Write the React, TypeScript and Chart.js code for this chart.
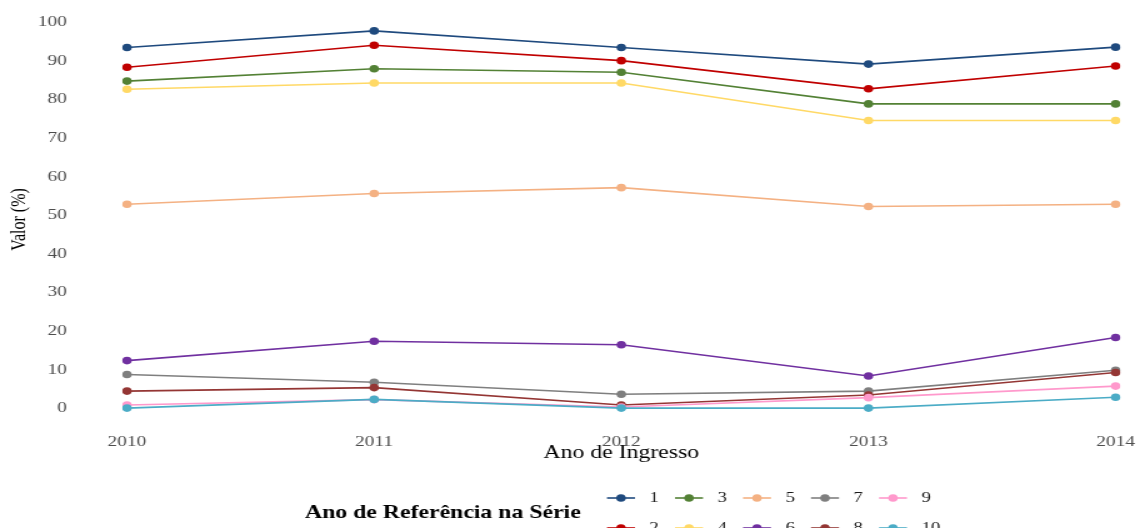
import React, { useEffect, useRef } from "react";
import { Chart, registerables } from "chart.js";

Chart.register(...registerables);

const years = ["2010", "2011", "2012", "2013", "2014"];
const seriesLabels = ["1", "2", "3", "4", "5", "6", "7", "8", "9", "10"];
const serie1 = [93.4, 97.7, 93.4, 89.1, 93.5];
const serie2 = [88.3, 94.0, 90.0, 82.7, 88.6];
const serie3 = [84.7, 87.9, 87.0, 78.8, 78.8];
const serie4 = [82.6, 84.2, 84.2, 74.5, 74.5];
const serie5 = [52.8, 55.6, 57.1, 52.2, 52.8];
const serie6 = [12.3, 17.3, 16.4, 8.3, 18.3];
const serie7 = [8.7, 6.7, 3.6, 4.4, 9.8];
const serie8 = [4.4, 5.3, 0.8, 3.4, 9.2];
const serie9 = [0.8, 2.2, 0.3, 2.7, 5.7];
const serie10 = [0.0, 2.25, 0.0, 0.0, 2.8];
const yTicks = [0, 10, 20, 30, 40, 50, 60, 70, 80, 90, 100];

const seriesValues = [serie1, serie2, serie3, serie4, serie5, serie6, serie7, serie8, serie9, serie10];
const seriesColors = [
  "#1F4A7E",
  "#C00000",
  "#538135",
  "#FFD966",
  "#F4B183",
  "#7030A0",
  "#7F7F7F",
  "#943634",
  "#FF99CC",
  "#4BACC6",
];

const xTitle = "Ano de Ingresso";
const yTitle = "Valor (%)";
const legendTitle = "Ano de Referência na Série";

const STRETCH = 1.25;
const FULL_W = 1143;
const H = 528;
const W = Math.round(FULL_W / STRETCH);
const FONT = "'Liberation Serif', 'Times New Roman', serif";

const legendPlugin = {
  id: "bottomLegend",
  afterDraw(chart: any) {
    const ctx = chart.ctx as CanvasRenderingContext2D;
    ctx.save();
    ctx.font = `bold 19px ${FONT}`;
    ctx.fillStyle = "#000";
    ctx.textBaseline = "middle";
    ctx.textAlign = "left";
    ctx.fillText(legendTitle, 244, 513);
    chart.data.datasets.forEach((ds: any, i: number) => {
      const col = Math.floor(i / 2);
      const row = i % 2;
      const x0 = 485.6 + col * 54.4;
      const y = 498 + row * 30;
      ctx.strokeStyle = ds.borderColor;
      ctx.lineWidth = 1.6;
      ctx.beginPath();
      ctx.moveTo(x0, y);
      ctx.lineTo(x0 + 22.4, y);
      ctx.stroke();
      ctx.fillStyle = ds.borderColor;
      ctx.beginPath();
      ctx.arc(x0 + 11.2, y, 3.8, 0, Math.PI * 2);
      ctx.fill();
      ctx.fillStyle = "#1a1a1a";
      ctx.font = `15px ${FONT}`;
      ctx.fillText(ds.label, x0 + 34, y);
    });
    ctx.restore();
  },
};

export default function App() {
  const canvasRef = useRef<HTMLCanvasElement | null>(null);

  useEffect(() => {
    if (!canvasRef.current) return;
    Chart.defaults.font.family = FONT;
    const chart = new Chart(canvasRef.current, {
      type: "line",
      data: {
        labels: years,
        datasets: seriesValues.map((vals, i) => ({
          label: seriesLabels[i],
          data: vals,
          borderColor: seriesColors[i],
          backgroundColor: seriesColors[i],
          pointBackgroundColor: seriesColors[i],
          pointBorderColor: seriesColors[i],
          pointRadius: 3.8,
          pointBorderWidth: 0,
          borderWidth: 1.6,
          tension: 0,
          fill: false,
          order: 10 - i,
        })),
      },
      options: {
        responsive: false,
        animation: false,
        layout: { padding: { top: 12, right: 18, bottom: 0, left: 0 } },
        plugins: {
          legend: { display: false },
          tooltip: { enabled: false },
          title: { display: false },
        },
        scales: {
          x: {
            type: "category",
            offset: false,
            grid: { display: false, drawTicks: false, tickLength: 0 },
            border: { display: false },
            ticks: {
              color: "#4D4D4D",
              font: { size: 15.5, family: FONT },
              padding: 6,
              maxRotation: 0,
            },
            title: {
              display: true,
              text: xTitle,
              color: "#000",
              font: { size: 19, family: FONT },
              padding: { top: 0, bottom: 63.6 },
            },
            afterFit: (scale: any) => {
              scale.height = 101;
            },
          },
          y: {
            type: "linear",
            min: -4.9,
            max: 102.6,
            grid: { display: false, drawTicks: false, tickLength: 0 },
            border: { display: false },
            afterBuildTicks: (scale: any) => {
              scale.ticks = yTicks.map((v) => ({ value: v }));
            },
            ticks: {
              color: "#4D4D4D",
              font: { size: 15.5, family: FONT },
              padding: 48,
            },
            title: {
              display: true,
              text: yTitle,
              color: "#000",
              font: { size: 16, family: FONT },
              padding: { top: 6.4, bottom: 0 },
            },
            afterFit: (scale: any) => {
              scale.width = 101.6;
              scale.paddingTop = 0;
              scale.paddingBottom = 0;
            },
          },
        },
      },
      plugins: [legendPlugin],
    });
    return () => chart.destroy();
  }, []);

  return (
    <div
      style={{
        position: "fixed",
        left: 0,
        top: 0,
        width: FULL_W,
        height: H,
        overflow: "hidden",
        background: "#fff",
      }}
    >
      <canvas
        ref={canvasRef}
        width={W}
        height={H}
        style={{
          display: "block",
          transform: `scaleX(${STRETCH})`,
          transformOrigin: "0 0",
        }}
      />
    </div>
  );
}
